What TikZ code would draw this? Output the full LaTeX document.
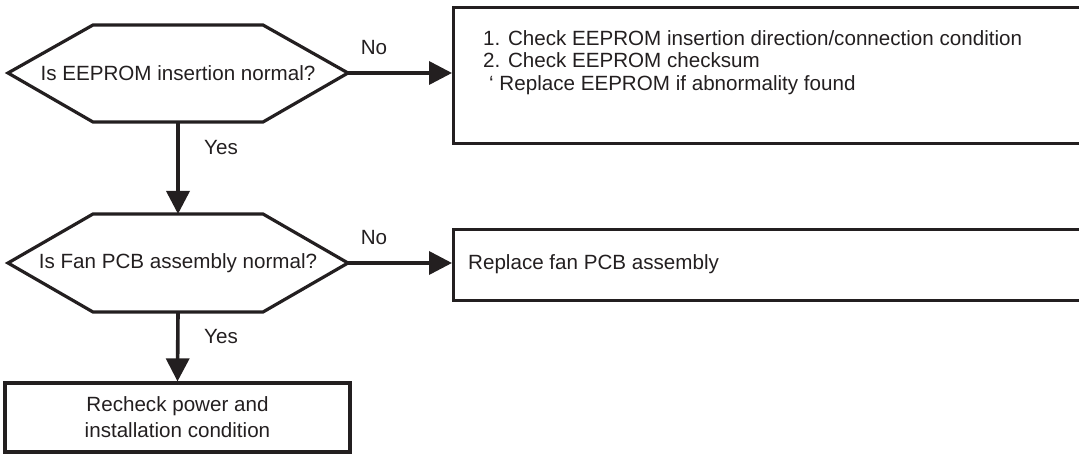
\documentclass[tikz,border=0pt]{standalone}
\usepackage{fontspec}
\setmainfont{Liberation Sans}
\usetikzlibrary{arrows.meta}
\definecolor{ink}{HTML}{231F20}
\begin{document}
\begin{tikzpicture}[x=1pt,y=-1pt,
  every node/.style={font=\fontsize{20.6}{22.5}\selectfont, text=ink},
  line/.style={draw=ink, line width=3.2pt},
  flow/.style={draw=ink, line width=3.6pt, -{Triangle[length=23pt,width=23pt]}},
  boxnode/.style={draw=ink, line width=3.2pt, rectangle, inner sep=0pt},
  lbl/.style={inner sep=0pt, anchor=center}]
\useasboundingbox (0,0) rectangle (1079,454);
\clip (0,0) rectangle (1079,454);

% decision 1
\coordinate (d1w) at (8,73);
\coordinate (d1e) at (348,73);
\coordinate (d1s) at (178,122);
\draw[line, line join=miter] (d1w) -- (93,25) -- (263,25) -- (d1e) -- (263,122) -- (93,122) -- cycle;
\node (d1) at (178,73) {Is EEPROM insertion normal?};

% box 1
\node[boxnode, anchor=north west, minimum width=640pt, minimum height=136pt] (b1) at (452,6) {};
\node[anchor=north west, inner sep=0pt, align=left] (t1) at (483,30)
  {1. Check EEPROM insertion direction/connection condition\\
   2. Check EEPROM checksum\\
   \hspace*{6pt}‘ Replace EEPROM if abnormality found};

% decision 2
\coordinate (d2w) at (8,263);
\coordinate (d2e) at (348,263);
\coordinate (d2n) at (178,214);
\coordinate (d2s) at (178,312);
\draw[line, line join=miter] (d2w) -- (93,214) -- (263,214) -- (d2e) -- (263,312) -- (93,312) -- cycle;
\node (d2) at (178,263) {Is Fan PCB assembly normal?};

% box 2
\node[boxnode, anchor=north west, minimum width=640pt, minimum height=71pt] (b2) at (452,228) {};
\node[anchor=west, inner sep=0pt] (t2) at (468,264) {Replace fan PCB assembly};

% box 3
\node[boxnode, minimum width=345pt, minimum height=69pt, align=center, font=\fontsize{20.6}{26}\selectfont] (b3) at (177.5,417.5)
  {Recheck power and\\installation condition};

% connectors
\draw[flow] (d1e) -- (b1.west |- d1e);
\draw[flow] (d1s) -- (d2n);
\draw[flow] (d2e) -- (b2.west |- d2e);
\draw[flow] (d2s) -- (b3.north);

% labels
\node[lbl] (no1) at (374,48) {No};
\node[lbl] (yes1) at (221,148) {Yes};
\node[lbl] (no2) at (374,238) {No};
\node[lbl] (yes2) at (221,337) {Yes};
\end{tikzpicture}
\end{document}
